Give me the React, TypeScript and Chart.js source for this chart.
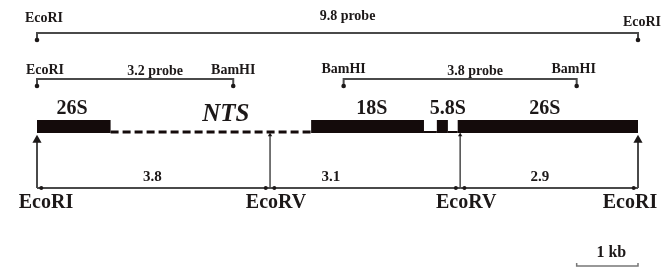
import React, { useEffect, useRef } from "react";
import { Chart, registerables } from "chart.js";

Chart.register(...registerables);

// ---------- data (kb) ----------
const regionLabels = ["26S", "NTS", "18S", "", "5.8S", "", "26S"];
const regionStarts = [0, 1.2, 4.47, 6.31, 6.52, 6.7, 6.86];
const regionEnds = [1.2, 4.47, 6.31, 6.52, 6.7, 6.86, 9.8];
const regionKinds = ["gene", "nts", "gene", "its", "gene", "its", "gene"];
const regionLabelAt = [0.57, 3.08, 5.46, null, 6.7, null, 8.28];

const siteNames = ["EcoRI", "EcoRV", "EcoRV", "EcoRI"];
const sitePositions = [0, 3.8, 6.9, 9.8];

const fragmentSizes = ["3.8", "3.1", "2.9"];
const fragmentLabelAt = [1.88, 4.79, 8.2];

const probeNames = ["9.8 probe", "3.2 probe", "3.8 probe"];
const probeStarts = [0, 0, 5.0];
const probeEnds = [9.8, 3.2, 8.8];
const probeStartSites = ["EcoRI", "EcoRI", "BamHI"];
const probeEndSites = ["EcoRI", "BamHI", "BamHI"];

const scaleBarStart = 8.8;
const scaleBarLength = 1;
const scaleBarLabel = "1 kb";

// ---------- layout (pixels) ----------
const PX_PER_KB = 601 / 9.8;
const X_MIN = -37 / PX_PER_KB;
const X_MAX = (662 - 37) / PX_PER_KB;

const probeLineY = [33, 79, 79];
const probeDotY = [40, 86, 86];
const probeNameY = [16, 71, 71];
const probeNameDx = [10, 20, 15];
const probeStartLabelY = [18, 70, 69];
const probeEndLabelY = [22, 70, 69];
const probeStartDx = [7, 8, 0];
const probeEndDx = [4, 0, -3];

const BAR_Y = 126.5;
const SPACER_Y = 132;
const GENE_LABEL_Y = 109;
const SITE_TOP = 140;
const SITE_BOTTOM = 188;
const FRAG_LABEL_Y = 177;
const SITE_LABEL_Y = 203;
const siteLabelDx = [9, 6, 6, -8];
const KB_LABEL_Y = 253;
const KB_BAR_Y = 266;

const LINE = "#4a4a4a";
const INK = "#1c1818";
const BAR = "#140b0b";
const SERIF = '"Liberation Serif", "Times New Roman", serif';

type TextItem = { x: number; y: number; dx: number; text: string; font: string };

function buildTexts(): TextItem[] {
  const t: TextItem[] = [];
  const small = `bold 14px ${SERIF}`;
  probeNames.forEach((name, i) => {
    t.push({ x: (probeStarts[i] + probeEnds[i]) / 2, y: probeNameY[i], dx: probeNameDx[i], text: name, font: small });
    t.push({ x: probeStarts[i], y: probeStartLabelY[i], dx: probeStartDx[i], text: probeStartSites[i], font: small });
    t.push({ x: probeEnds[i], y: probeEndLabelY[i], dx: probeEndDx[i], text: probeEndSites[i], font: small });
  });
  regionLabels.forEach((lab, i) => {
    if (!lab) return;
    const italic = regionKinds[i] === "nts";
    t.push({
      x: regionLabelAt[i] as number,
      y: italic ? GENE_LABEL_Y + 6 : GENE_LABEL_Y,
      dx: 0,
      text: lab,
      font: italic ? `italic bold 25px ${SERIF}` : `bold 20px ${SERIF}`,
    });
  });
  fragmentSizes.forEach((s, i) => {
    t.push({ x: fragmentLabelAt[i], y: FRAG_LABEL_Y, dx: 0, text: s, font: `bold 15px ${SERIF}` });
  });
  siteNames.forEach((n, i) => {
    t.push({ x: sitePositions[i], y: SITE_LABEL_Y, dx: siteLabelDx[i], text: n, font: `bold 20px ${SERIF}` });
  });
  t.push({ x: scaleBarStart + scaleBarLength / 2, y: KB_LABEL_Y, dx: 4, text: scaleBarLabel, font: `bold 16px ${SERIF}` });
  return t;
}

function seg(data: { x: number; y: number }[], extra: any) {
  return {
    data,
    showLine: true,
    fill: false,
    tension: 0,
    borderCapStyle: "butt",
    pointRadius: 0,
    pointHoverRadius: 0,
    ...extra,
  };
}

function buildDatasets() {
  const ds: any[] = [];
  // probes
  probeNames.forEach((_, i) => {
    const s = probeStarts[i];
    const e = probeEnds[i];
    ds.push(
      seg(
        [
          { x: s, y: probeDotY[i] },
          { x: s, y: probeLineY[i] },
          { x: e, y: probeLineY[i] },
          { x: e, y: probeDotY[i] },
        ],
        {
          borderColor: LINE,
          borderWidth: 2,
          pointRadius: [2.3, 0, 0, 2.3],
          pointBackgroundColor: INK,
          pointBorderWidth: 0,
        }
      )
    );
  });
  // gene map
  regionStarts.forEach((s, i) => {
    const e = regionEnds[i];
    const k = regionKinds[i];
    if (k === "gene") {
      ds.push(seg([{ x: s, y: BAR_Y }, { x: e, y: BAR_Y }], { borderColor: BAR, borderWidth: 13 }));
    } else if (k === "its") {
      ds.push(seg([{ x: s, y: SPACER_Y }, { x: e, y: SPACER_Y }], { borderColor: BAR, borderWidth: 2 }));
    } else {
      ds.push(
        seg([{ x: s, y: SPACER_Y }, { x: e, y: SPACER_Y }], {
          borderColor: BAR,
          borderWidth: 3,
          borderDash: [8, 4],
        })
      );
    }
  });
  // restriction sites (vertical arrows)
  siteNames.forEach((n, i) => {
    const x = sitePositions[i];
    const big = n === "EcoRI";
    ds.push(
      seg([{ x, y: big ? SITE_TOP : 135 }, { x, y: SITE_BOTTOM }], {
        borderColor: LINE,
        borderWidth: big ? 2 : 1.5,
        pointStyle: "triangle",
        pointRadius: [big ? 5.3 : 2.5, 0],
        pointBackgroundColor: INK,
        pointBorderColor: INK,
        pointBorderWidth: 0,
      })
    );
  });
  // fragments
  fragmentSizes.forEach((_, i) => {
    const s = sitePositions[i];
    const e = sitePositions[i + 1];
    const d = 0.07;
    ds.push(
      seg(
        [
          { x: s, y: SITE_BOTTOM },
          { x: s + d, y: SITE_BOTTOM },
          { x: e - d, y: SITE_BOTTOM },
          { x: e, y: SITE_BOTTOM },
        ],
        {
          borderColor: LINE,
          borderWidth: 2,
          pointRadius: [0, 2, 2, 0],
          pointBackgroundColor: INK,
          pointBorderWidth: 0,
        }
      )
    );
  });
  // scale bar
  ds.push(
    seg(
      [
        { x: scaleBarStart, y: KB_BAR_Y - 3 },
        { x: scaleBarStart, y: KB_BAR_Y },
        { x: scaleBarStart + scaleBarLength, y: KB_BAR_Y },
        { x: scaleBarStart + scaleBarLength, y: KB_BAR_Y - 3 },
      ],
      { borderColor: "#777", borderWidth: 1.5 }
    )
  );
  return ds;
}

const textPlugin = {
  id: "mapTexts",
  afterDatasetsDraw(chart: any) {
    const ctx = chart.ctx;
    const xs = chart.scales.x;
    const ys = chart.scales.y;
    ctx.save();
    ctx.fillStyle = INK;
    ctx.textAlign = "center";
    ctx.textBaseline = "middle";
    buildTexts().forEach((t) => {
      ctx.font = t.font;
      ctx.fillText(t.text, xs.getPixelForValue(t.x) + t.dx, ys.getPixelForValue(t.y));
    });
    ctx.restore();
  },
};

export default function App() {
  const ref = useRef<HTMLCanvasElement | null>(null);
  useEffect(() => {
    if (!ref.current) return;
    const chart = new Chart(ref.current, {
      type: "scatter",
      data: { datasets: buildDatasets() },
      options: {
        animation: false,
        responsive: false,
        maintainAspectRatio: false,
        layout: { padding: 0, autoPadding: false },
        events: [],
        plugins: { legend: { display: false }, tooltip: { enabled: false } },
        scales: {
          x: { type: "linear", min: X_MIN, max: X_MAX, display: false },
          y: { type: "linear", min: 0, max: 271, reverse: true, display: false },
        },
      },
      plugins: [textPlugin],
    } as any);
    return () => chart.destroy();
  }, []);
  return (
    <div style={{ position: "fixed", left: 0, top: 0, width: 662, height: 271, background: "#fff" }}>
      <canvas ref={ref} width={662} height={271} style={{ display: "block" }} />
    </div>
  );
}
